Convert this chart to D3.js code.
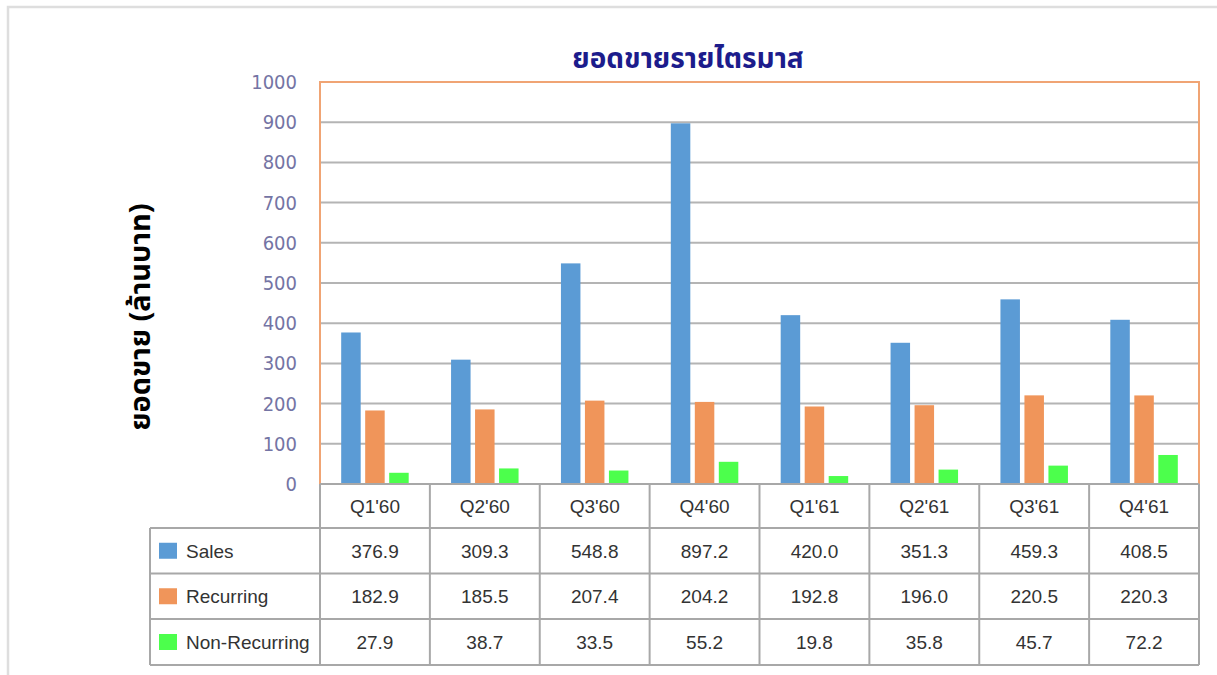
<!DOCTYPE html>
<html><head><meta charset="utf-8">
<script src="https://cdn.jsdelivr.net/npm/d3@7"></script>
<style>body{margin:0;background:#fff;}svg{display:block;}</style>
</head><body>
<svg id="c" width="1217" height="675"></svg>
<script>
const categories = ["Q1'60","Q2'60","Q3'60","Q4'60","Q1'61","Q2'61","Q3'61","Q4'61"];
const sales = [376.9,309.3,548.8,897.2,420.0,351.3,459.3,408.5];
const recurring = [182.9,185.5,207.4,204.2,192.8,196.0,220.5,220.3];
const nonRecurring = [27.9,38.7,33.5,55.2,19.8,35.8,45.7,72.2];
const seriesNames = ["Sales","Recurring","Non-Recurring"];
const seriesColors = ["#5b9bd5","#f0955a","#4cff4c"];
const yTicks = [0,100,200,300,400,500,600,700,800,900,1000];
const title = "ยอดขายรายไตรมาส";
const yTitle = "ยอดขาย (ล้านบาท)";

const series = [sales, recurring, nonRecurring];
const svg = d3.select("#c");
const L = 320, R = 1199, T = 82, B = 484;
const thaiFont = "'Noto Sans Thai','Tahoma','DejaVu Sans',sans-serif";

// outer border
svg.append("path").attr("d","M8,1000 L8,7 L1230,7").attr("fill","none")
  .attr("stroke","#dedede").attr("stroke-width",2.5);

const x = d3.scaleBand().domain(categories).range([L,R]).padding(0);
const y = d3.scaleLinear().domain([0,1000]).range([B,T]);
const barW = 19.5, gap = 4.5;
const groupW = 3*barW + 2*gap;
const xs = d3.scaleBand().domain(seriesNames).range([0, groupW]).paddingInner(gap/(barW+gap)).paddingOuter(0);

// gridlines
svg.append("g").selectAll("line").data(yTicks.filter(d=>d>0 && d<1000)).join("line")
  .attr("x1",L).attr("x2",R).attr("y1",d=>y(d)).attr("y2",d=>y(d))
  .attr("stroke","#b4b4b4").attr("stroke-width",2);

// y axis labels
const yAxis = d3.axisLeft(y).tickValues(yTicks).tickFormat(d3.format("d")).tickSize(0).tickPadding(23);
const ga = svg.append("g").attr("transform",`translate(${L},0)`).call(yAxis);
ga.select(".domain").remove();
ga.selectAll("text").attr("font-family","'DejaVu Sans Condensed','DejaVu Sans',sans-serif")
  .attr("font-size",20).attr("fill","#7474a4");

// bars
series.forEach((vals, si) => {
  svg.append("g").selectAll("rect").data(vals).join("rect")
    .attr("x",(d,i)=>x(categories[i]) + (x.bandwidth()-groupW)/2 + xs(seriesNames[si]))
    .attr("width",xs.bandwidth())
    .attr("y",d=>y(d)).attr("height",d=>B-y(d))
    .attr("fill",seriesColors[si]);
});

// plot border (orange) top, left, right
svg.append("path").attr("d",`M${L},${B} L${L},${T} L${R},${T} L${R},${B}`)
  .attr("fill","none").attr("stroke","#f0a474").attr("stroke-width",2);

// data table
const rowTop = [484, 528, 573.5, 619, 665];
const tblLeft = 150;
const tbl = svg.append("g");
const tStroke = "#a8a8a8";
tbl.append("line").attr("x1",L).attr("x2",R).attr("y1",rowTop[0]).attr("y2",rowTop[0]).attr("stroke",tStroke).attr("stroke-width",2);
for (let r=1;r<rowTop.length;r++){
  tbl.append("line").attr("x1",tblLeft).attr("x2",R).attr("y1",rowTop[r]).attr("y2",rowTop[r]).attr("stroke",tStroke).attr("stroke-width",2);
}
tbl.append("line").attr("x1",tblLeft).attr("x2",tblLeft).attr("y1",rowTop[1]).attr("y2",rowTop[4]).attr("stroke",tStroke).attr("stroke-width",2);
const vx = categories.map(c=>x(c)).concat([R]);
tbl.selectAll(".v").data(vx).join("line")
  .attr("x1",d=>d).attr("x2",d=>d).attr("y1",rowTop[0]).attr("y2",rowTop[4])
  .attr("stroke",tStroke).attr("stroke-width",2);

const tFont = "'Liberation Sans',Arial,sans-serif";
const tSize = 19;
tbl.selectAll(".cat").data(categories).join("text")
  .attr("x",d=>x(d)+x.bandwidth()/2).attr("y",(rowTop[0]+rowTop[1])/2)
  .attr("dy","0.36em").attr("text-anchor","middle")
  .attr("font-family",tFont).attr("font-size",tSize).attr("fill","#333").text(d=>d);
series.forEach((vals, si) => {
  const cy = (rowTop[si+1]+rowTop[si+2])/2;
  tbl.append("rect").attr("x",159).attr("y",cy-8).attr("width",18).attr("height",16).attr("fill",seriesColors[si]);
  tbl.append("text").attr("x",186).attr("y",cy).attr("dy","0.36em")
    .attr("font-family",tFont).attr("font-size",tSize).attr("fill","#333").text(seriesNames[si]);
  tbl.selectAll(null).data(vals).join("text")
    .attr("x",(d,i)=>x(categories[i])+x.bandwidth()/2).attr("y",cy).attr("dy","0.36em")
    .attr("text-anchor","middle").attr("font-family",tFont).attr("font-size",tSize).attr("fill","#333")
    .text(d=>d.toFixed(1));
});

// title
svg.append("text").attr("x",688).attr("y",58).attr("dy","0.35em").attr("text-anchor","middle")
  .attr("font-family",thaiFont).attr("font-weight","bold").attr("font-size",28).attr("fill","#1c1c8c")
  .text(title);

// y title
svg.append("text").attr("transform","translate(140,317) rotate(-90)").attr("dy","0.35em")
  .attr("text-anchor","middle").attr("font-family",thaiFont).attr("font-weight","bold")
  .attr("font-size",29).attr("fill","#000").text(yTitle);
</script>
</body></html>
